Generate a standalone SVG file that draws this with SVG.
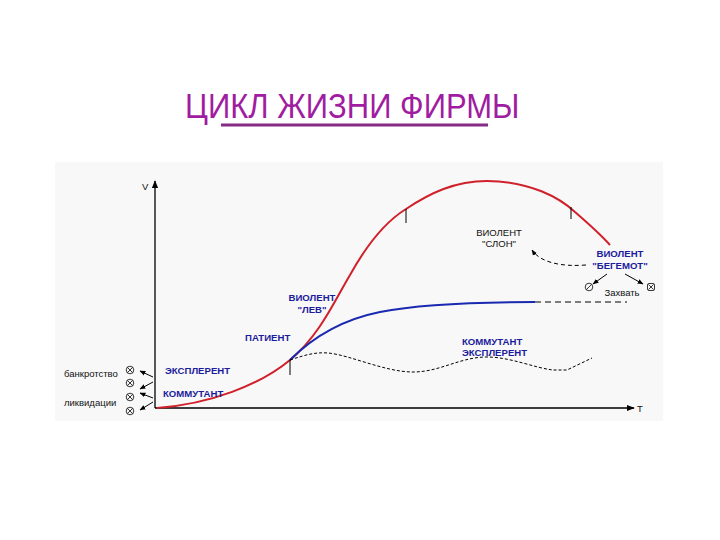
<svg xmlns="http://www.w3.org/2000/svg" width="720" height="540" viewBox="0 0 720 540">
<style>
.b{font-family:"Liberation Sans",Arial,sans-serif;font-weight:bold;font-size:9.6px;fill:#1c1c9c}
.n{font-family:"Liberation Sans",Arial,sans-serif;font-size:9.5px;fill:#111}
.ax{stroke:#000;stroke-width:1.3;fill:none}
.tick{stroke:#000;stroke-width:1;fill:none}
.ar{stroke:#000;stroke-width:1;fill:none;marker-end:url(#ah)}
.s{stroke:#222;stroke-width:0.9;fill:none}
</style>
<defs>
<marker id="ah" viewBox="0 0 10 10" refX="9" refY="5" markerWidth="6" markerHeight="6" orient="auto"><path d="M0,1 L10,5 L0,9 z" fill="#000"/></marker>
<marker id="axh" viewBox="0 0 10 10" refX="9" refY="5" markerWidth="6" markerHeight="6" orient="auto"><path d="M0,1 L10,5 L0,9 z" fill="#000"/></marker>
<g id="otimes" class="s"><circle r="3.8"/><path d="M-2.7,-2.7 L2.7,2.7 M-2.7,2.7 L2.7,-2.7"/></g>
<g id="oslash" class="s"><circle r="3.8"/><path d="M-2.7,2.7 L2.7,-2.7"/></g>
<g id="boxx" class="s"><rect x="-3.5" y="-3.5" width="7" height="7" rx="1.5"/><path d="M-2.5,-2.5 L2.5,2.5 M-2.5,2.5 L2.5,-2.5"/></g>
</defs>
<rect width="720" height="540" fill="#fff"/>
<g id="title">
<text transform="translate(185,118) scale(1,1.12)" font-family="Liberation Sans,Arial,sans-serif" font-size="31" fill="#a01ca0">ЦИКЛ ЖИЗНИ ФИРМЫ</text>
<line x1="221" y1="125" x2="488" y2="125" stroke="#862a86" stroke-width="3"/>
</g>
<rect id="panel" x="55" y="162" width="608" height="259" fill="#f8f8f8"/>
<g id="axes">
<line class="ax" x1="155" y1="408" x2="155" y2="181" marker-end="url(#axh)"/>
<line class="ax" x1="155" y1="408" x2="634" y2="408" marker-end="url(#axh)"/>
<text class="n" x="142" y="190">V</text>
<text class="n" x="637" y="412">T</text>
</g>
<g id="connectors">
<path d="M157,408 C210,404 260,385 290,360 C320,335 335,300 350,275 C365,248 385,222 406,209 C430,193 455,181 487,181 C530,181 560,198 575,212 C590,225 602,236 610,245" stroke="#d0202a" stroke-width="2" fill="none"/>
<path d="M290,360 C310,340 340,320 380,312 C420,304 470,302 535,302" stroke="#1a2ab0" stroke-width="2" fill="none"/>
<line x1="535" y1="302" x2="627" y2="302" stroke="#000" stroke-width="1" stroke-dasharray="6,4"/>
<path d="M290,360 C305,355 315,352 328,353 C350,355 385,372 413,372 C440,372 460,357 487,357 C510,357 535,368 553,370 L567,370 L592,358" stroke="#000" stroke-width="1" fill="none" stroke-dasharray="3,2"/>
<line class="tick" x1="290" y1="360" x2="290" y2="375"/>
<line class="tick" x1="406" y1="209" x2="406" y2="223"/>
<line class="tick" x1="571" y1="207" x2="571" y2="219"/>
<path d="M586,265 C560,267 540,262 532,250" stroke="#000" stroke-width="1" fill="none" stroke-dasharray="4,3" marker-end="url(#ah)"/>
<line class="ar" x1="607" y1="274" x2="593" y2="284"/>
<line class="ar" x1="625" y1="274" x2="643" y2="284"/>
<line class="ar" x1="153" y1="377" x2="140" y2="371"/>
<line class="ar" x1="153" y1="382" x2="140" y2="389"/>
<line class="ar" x1="153" y1="398" x2="140" y2="393"/>
<line class="ar" x1="153" y1="402" x2="140" y2="410"/>
</g>
<g id="n-slon">
<text class="n" x="499" y="236" text-anchor="middle">ВИОЛЕНТ</text>
<text class="n" x="499" y="247" text-anchor="middle">"СЛОН"</text>
</g>
<g id="n-begemot">
<text class="b" x="620" y="257" text-anchor="middle">ВИОЛЕНТ</text>
<text class="b" x="620" y="269" text-anchor="middle">"БЕГЕМОТ"</text>
<use href="#oslash" x="589" y="287"/>
<use href="#boxx" x="651" y="287"/>
<text class="n" x="622" y="296" text-anchor="middle">Захвать</text>
</g>
<g id="n-lev">
<text class="b" x="312" y="301" text-anchor="middle">ВИОЛЕНТ</text>
<text class="b" x="312" y="313" text-anchor="middle">"ЛЕВ"</text>
</g>
<g id="n-patient">
<text class="b" x="245" y="341">ПАТИЕНТ</text>
</g>
<g id="n-kommutant2">
<text class="b" x="462" y="345">КОММУТАНТ</text>
<text class="b" x="462" y="356">ЭКСПЛЕРЕНТ</text>
</g>
<g id="n-eksplerent">
<text class="b" x="165" y="374">ЭКСПЛЕРЕНТ</text>
</g>
<g id="n-kommutant">
<text class="b" x="163" y="397">КОММУТАНТ</text>
</g>
<g id="n-exits">
<text class="n" x="64" y="377">банкротство</text>
<text class="n" x="64" y="406">ликвидации</text>
<use href="#otimes" x="130" y="370"/>
<use href="#otimes" x="130" y="383"/>
<use href="#otimes" x="130" y="397"/>
<use href="#otimes" x="130" y="411"/>
</g>
</svg>
